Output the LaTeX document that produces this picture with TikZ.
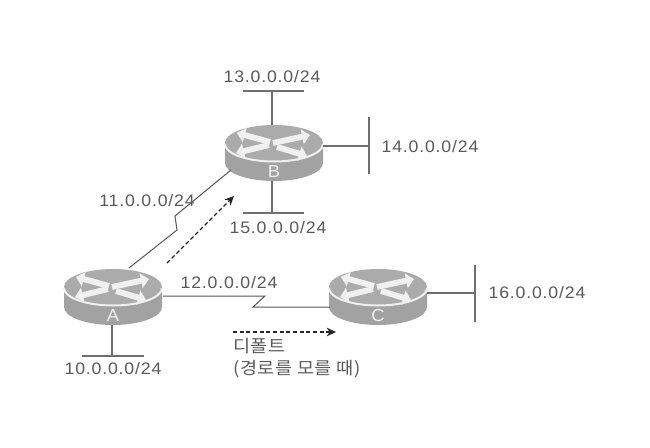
\documentclass[tikz,border=0pt]{standalone}
\usepackage{fontspec}
\usetikzlibrary{arrows.meta}
\newfontfamily\labfont[FakeStretch=1.06,LetterSpace=5]{Liberation Sans}
\newfontfamily\krfont[FakeStretch=1.08,LetterSpace=3]{Noto Sans CJK KR}
\definecolor{txt}{HTML}{5A5A5A}
\definecolor{lnk}{HTML}{6E6E6E}
\definecolor{rtop}{HTML}{ABABAB}
\definecolor{rbody}{HTML}{A2A2A2}
\definecolor{rrim}{HTML}{EFEFEF}
\tikzset{
  x=0.75pt,y=-0.75pt,
  netlabel/.style={font=\labfont\fontsize{12.5pt}{13pt}\selectfont,text=txt,inner sep=0pt},
  krlabel/.style={font=\krfont\fontsize{12.9pt}{14pt}\selectfont,text=txt,inner sep=0pt,anchor=west},
  rname/.style={font=\labfont\fontsize{13pt}{14pt}\selectfont,text=rrim,inner sep=0pt},
  routerbox/.style={minimum width=73.5pt,minimum height=41.25pt,inner sep=0pt},
  wire/.style={draw=lnk,line width=0.8pt},
  serial/.style={draw=lnk!80!black,line width=0.75pt},
  flow/.style={draw=black!85,line width=0.9pt,dash pattern=on 3pt off 2pt,-{Stealth[length=7pt,width=6.5pt]}},
  rarrow/.style={draw=white!94!black,line width=4.4pt,-{Triangle[length=6pt,width=11pt]}}
}
% #1 name, #2 x, #3 y of the top face centre, #4 letter
\newcommand{\routerdraw}[4]{
  \begin{scope}[shift={(#2,#3)}]
    \fill[rbody] (-49,0) -- (-49,20) arc[start angle=180,end angle=0,x radius=49,y radius=18] -- (49,0) -- cycle;
    \fill[rtop] (0,0) ellipse[x radius=49,y radius=18];
    \draw[rrim,line width=1.5pt] (-49,1) arc[start angle=180,end angle=0,x radius=49,y radius=17.5];
    \draw[rarrow] (-4,-1) -- (-37,-10);
    \draw[rarrow] (-1,0) -- (36,-8);
    \draw[rarrow] (-5,2) -- (-38,10);
    \draw[rarrow] (3,4) -- (33,13);
  \end{scope}
  \node[routerbox] (#1) at (#2,#3+10) {};
  \node[rname] (#1name) at (#2,#3+29) {#4};
}
\begin{document}
\begin{tikzpicture}
\useasboundingbox (0,0) rectangle (650,447);
\fill[white] (0,0) rectangle (650,447);

\routerdraw{B}{274}{143}{B}
\routerdraw{A}{113}{287}{A}
\routerdraw{C}{378}{287}{C}

% network segments
\coordinate (n13l) at (243,91);
\coordinate (n13r) at (304,91);
\coordinate (n13m) at (272,91);
\coordinate (n15l) at (243,213);
\coordinate (n15r) at (304,213);
\coordinate (n15m) at (272,213);
\coordinate (n14t) at (369,117);
\coordinate (n14b) at (369,174);
\coordinate (n14m) at (369,146);
\coordinate (n10l) at (82,356);
\coordinate (n10r) at (144,356);
\coordinate (n10m) at (112,356);
\coordinate (n16t) at (475,265);
\coordinate (n16b) at (475,322);
\coordinate (n16m) at (475,293);

\draw[wire] (n13l) -- (n13r);
\draw[wire] (n13m) -- (n13m |- B.north);
\draw[wire] (n15l) -- (n15r);
\draw[wire] (n15m) -- (n15m |- B.south);
\draw[wire] (n14t) -- (n14b);
\draw[wire] (n14m) -- (n14m -| B.east);
\draw[wire] (n10l) -- (n10r);
\draw[wire] (n10m) -- (n10m |- A.south);
\draw[wire] (n16t) -- (n16b);
\draw[wire] (n16m) -- (n16m -| C.east);

% serial links
\coordinate (abs) at (129,268);
\coordinate (abe) at (231,170);
\draw[serial] (abs) -- (177,230) -- (175,216) -- (abe);
\coordinate (acs) at (163,296);
\coordinate (ace) at (330,307);
\draw[serial] (acs) -- (265,296) -- (253,307) -- (ace);

% flows
\coordinate (f1s) at (167,263);
\coordinate (f1e) at (234,196);
\draw[flow] (f1s) -- (f1e);
\coordinate (f2s) at (233,332);
\coordinate (f2e) at (336,332);
\draw[flow] (f2s) -- (f2e);

% labels
\node[netlabel] (l13) at (272,77) {13.0.0.0/24};
\node[netlabel] (l14) at (430,147) {14.0.0.0/24};
\node[netlabel] (l15) at (278,228) {15.0.0.0/24};
\node[netlabel] (l11) at (147,201) {11.0.0.0/24};
\node[netlabel] (l12) at (229,283) {12.0.0.0/24};
\node[netlabel] (l10) at (113,369) {10.0.0.0/24};
\node[netlabel] (l16) at (537,293) {16.0.0.0/24};
\node[krlabel] (k1) at (233,346) {디폴트};
\node[krlabel] (k2) at (233,369) {(경로를 모를 때)};
\end{tikzpicture}
\end{document}
